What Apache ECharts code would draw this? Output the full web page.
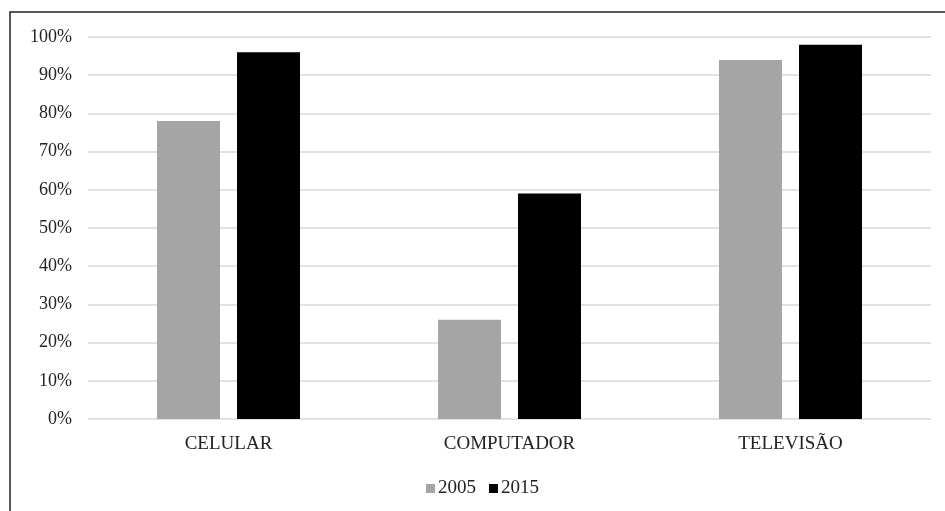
<!DOCTYPE html>
<html>
<head>
<meta charset="utf-8">
<script src="https://cdn.jsdelivr.net/npm/echarts@6/dist/echarts.min.js"></script>
<style>
  html, body { margin: 0; padding: 0; background: #fff; }
  #chart { width: 945px; height: 511px; }
</style>
</head>
<body>
<div id="chart"></div>
<script>
// Share of households owning each device (%)
const categories = ['CELULAR', 'COMPUTADOR', 'TELEVISÃO'];
const years = ['2005', '2015'];
const values2005 = [78, 26, 94];
const values2015 = [96, 59, 98];
const yTicks = { min: 0, max: 100, interval: 10 };

const FONT = '"Liberation Serif", "Times New Roman", serif';
const chart = echarts.init(document.getElementById('chart'), null, { renderer: 'canvas' });

chart.setOption({
  backgroundColor: '#ffffff',
  animation: false,
  grid: { left: 88, right: 14, top: 37, bottom: 92, containLabel: false },
  legend: {
    data: years,
    left: 421,
    top: 474,
    itemWidth: 9,
    itemHeight: 9,
    itemGap: 13,
    icon: 'rect',
    textStyle: { fontFamily: FONT, fontSize: 19, color: '#222', padding: [0, 0, 0, -2] }
  },
  xAxis: {
    type: 'category',
    data: categories,
    axisLine: { show: false },
    axisTick: { show: false },
    axisLabel: { fontFamily: FONT, fontSize: 19, color: '#222', margin: 16 }
  },
  yAxis: {
    type: 'value',
    min: yTicks.min,
    max: yTicks.max,
    interval: yTicks.interval,
    axisLine: { show: false },
    axisTick: { show: false },
    axisLabel: { fontFamily: FONT, fontSize: 18, color: '#222', margin: 16, formatter: '{value}%' },
    splitLine: { lineStyle: { color: '#d9d9d9', width: 1.5 } }
  },
  series: [
    {
      name: years[0], type: 'bar', data: values2005,
      barWidth: 63, barGap: '27%',
      itemStyle: { color: '#a5a5a5' }
    },
    {
      name: years[1], type: 'bar', data: values2015,
      barWidth: 63, barGap: '27%',
      itemStyle: { color: '#000000' }
    }
  ],
  graphic: [{
    type: 'polyline',
    silent: true,
    shape: { points: [[10, 511], [10, 12], [945, 12]] },
    style: { stroke: '#222', lineWidth: 1.5, fill: null }
  }]
});
</script>
</body>
</html>
